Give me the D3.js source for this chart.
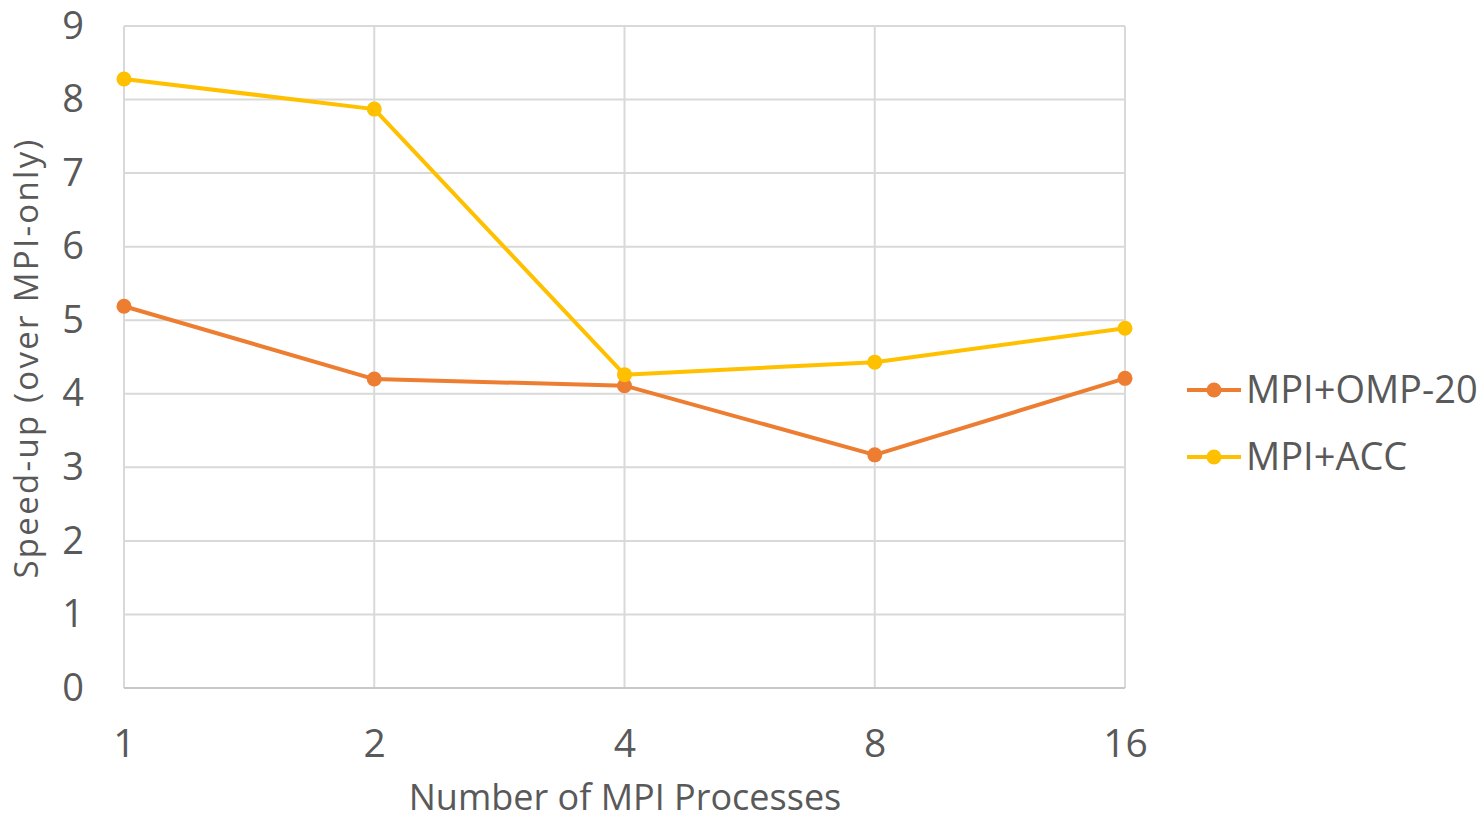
<!DOCTYPE html>
<html>
<head>
<meta charset="utf-8">
<script src="https://cdn.jsdelivr.net/npm/d3@7"></script>
<style>
  html, body { margin: 0; padding: 0; background: #fff; }
  svg { display: block; }
</style>
</head>
<body>
<svg id="chart" width="1483" height="821"></svg>
<script>
// Data
const categories = ["1", "2", "4", "8", "16"];
const ompValues = [5.19, 4.20, 4.11, 3.17, 4.21];
const accValues = [8.28, 7.87, 4.26, 4.43, 4.89];
const yTicks = [0, 1, 2, 3, 4, 5, 6, 7, 8, 9];
const seriesNames = ["MPI+OMP-20", "MPI+ACC"];
const seriesColors = ["#ED7D31", "#FFC000"];

const svg = d3.select("#chart");
const width = 1483, height = 821;
const margin = { left: 124, right: width - 1125, top: 26, bottom: height - 688 };

const x = d3.scalePoint().domain(categories).range([margin.left, width - margin.right]).padding(0);
const y = d3.scaleLinear().domain([0, 9]).range([height - margin.bottom, margin.top]);

const textColor = "#595959";
const gridColor = "#D9D9D9";
const font = "'Open Sans', sans-serif";

// Horizontal gridlines
svg.append("g")
  .selectAll("line")
  .data(yTicks.filter(d => d > 0))
  .join("line")
  .attr("x1", x.range()[0]).attr("x2", x.range()[1])
  .attr("y1", d => y(d)).attr("y2", d => y(d))
  .attr("stroke", gridColor).attr("stroke-width", 2);

// Vertical gridlines at each category
svg.append("g")
  .selectAll("line")
  .data(categories)
  .join("line")
  .attr("x1", d => x(d)).attr("x2", d => x(d))
  .attr("y1", y(9)).attr("y2", y(0))
  .attr("stroke", gridColor).attr("stroke-width", 2);

// Baseline
svg.append("line")
  .attr("x1", x.range()[0]).attr("x2", x.range()[1])
  .attr("y1", y(0)).attr("y2", y(0))
  .attr("stroke", "#C8C8C8").attr("stroke-width", 2);

// Y axis tick labels
const yAxis = d3.axisLeft(y).tickValues(yTicks).tickSize(0).tickPadding(40);
const gy = svg.append("g").attr("transform", `translate(${margin.left},0)`).call(yAxis);
gy.select(".domain").remove();
gy.selectAll("text")
  .attr("fill", textColor)
  .style("font-family", font)
  .style("font-size", "38px");

// X axis tick labels
const xAxis = d3.axisBottom(x).tickSize(0).tickPadding(0);
const gx = svg.append("g").attr("transform", `translate(0,${y(0)})`).call(xAxis);
gx.select(".domain").remove();
gx.selectAll(".tick text")
  .attr("fill", textColor)
  .attr("dy", null)
  .attr("y", 69)
  .style("font-family", font)
  .style("font-size", "39px");

// Axis titles
svg.append("text")
  .attr("x", 625).attr("y", 810)
  .attr("text-anchor", "middle")
  .attr("fill", textColor)
  .style("font-family", font)
  .style("font-size", "36px")
  .text("Number of MPI Processes");

svg.append("text")
  .attr("transform", `translate(38,${(138 + 578) / 2}) rotate(-90)`)
  .attr("text-anchor", "middle")
  .attr("fill", textColor)
  .style("font-family", font)
  .style("font-size", "33px")
  .style("letter-spacing", "2.3px")
  .text("Speed-up (over MPI-only)");

// Series lines and markers
const series = [ompValues, accValues];
const line = d3.line().x((d, i) => x(categories[i])).y(d => y(d));

series.forEach((vals, si) => {
  const g = svg.append("g");
  g.append("path")
    .datum(vals)
    .attr("d", line)
    .attr("fill", "none")
    .attr("stroke", seriesColors[si])
    .attr("stroke-width", 4)
    .attr("stroke-linejoin", "round");
  g.selectAll("circle")
    .data(vals)
    .join("circle")
    .attr("cx", (d, i) => x(categories[i]))
    .attr("cy", d => y(d))
    .attr("r", 7.5)
    .attr("fill", seriesColors[si]);
});

// Legend
const legend = svg.append("g");
const legendY = [390, 457];
seriesNames.forEach((name, i) => {
  const gl = legend.append("g").attr("transform", `translate(0,${legendY[i]})`);
  gl.append("line")
    .attr("x1", 1187).attr("x2", 1241)
    .attr("y1", 0).attr("y2", 0)
    .attr("stroke", seriesColors[i]).attr("stroke-width", 4);
  gl.append("circle").attr("cx", 1214).attr("cy", 0).attr("r", 7.5).attr("fill", seriesColors[i]);
  gl.append("text")
    .attr("x", 1246).attr("y", 0)
    .attr("dy", "0.35em")
    .attr("fill", textColor)
    .style("font-family", font)
    .style("font-size", "38px")
    .text(name);
});
</script>
</body>
</html>
